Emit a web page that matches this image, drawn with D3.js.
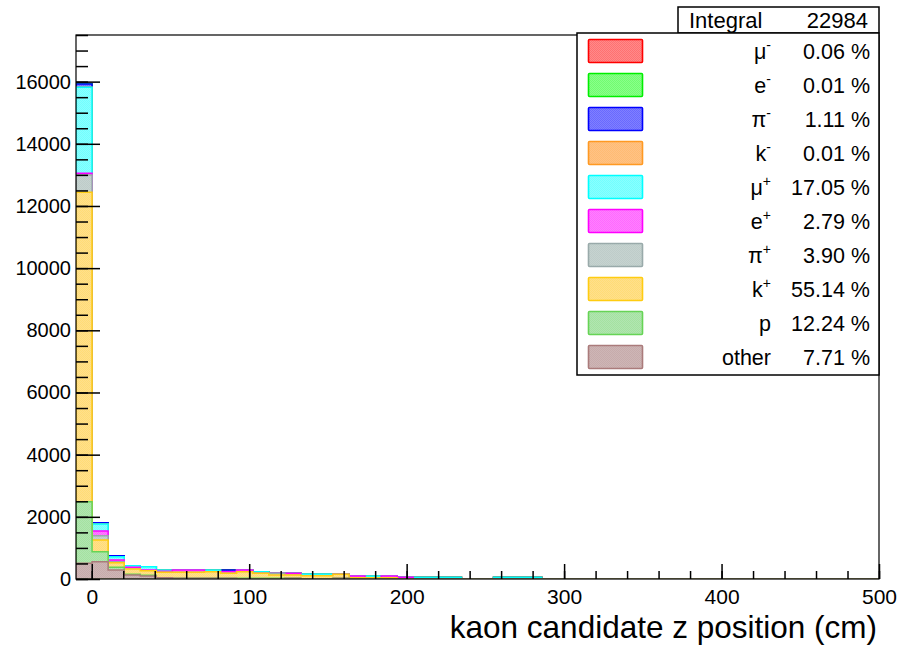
<!DOCTYPE html>
<html>
<head>
<meta charset="utf-8">
<script src="https://cdn.jsdelivr.net/npm/d3@7"></script>
<style>
  html, body { margin: 0; padding: 0; background: #fff; }
  svg { display: block; font-family: "Liberation Sans", Arial, Helvetica, sans-serif; }
</style>
</head>
<body>
<svg id="chart" width="897" height="648"></svg>
<script>
// Binning of the z-position histogram: 50 bins between -10 and 500 cm
const xMin = -10, xMax = 500, nBins = 50;
const yMax = 17500;
const integralLabel = "Integral";
const integralValue = "22984";
const xTitle = "kaon candidate z position (cm)";
const xMajorTicks = [0, 100, 200, 300, 400, 500];
const yMajorTicks = [0, 2000, 4000, 6000, 8000, 10000, 12000, 14000, 16000];

// Bin contents per particle species (bins 0..28, later bins are empty)
const other   = [504, 557, 289, 128, 96, 43, 21, 21, 21, 21, 0, 0, 0, 21, 0, 0, 21, 0, 0, 0, 0, 0, 0, 0, 0, 0, 0, 0, 0];
const proton  = [1980, 321, 86, 22, 21, 0, 0, 0, 0, 0, 21, 21, 21, 0, 0, 0, 0, 0, 0, 0, 0, 0, 0, 0, 0, 0, 0, 0, 0];
const kPlus   = [9960, 375, 149, 171, 150, 171, 193, 193, 214, 161, 214, 160, 107, 107, 107, 107, 129, 43, 43, 43, 0, 0, 0, 0, 0, 0, 0, 0, 0];
const piPlus  = [556, 138, 32, 0, 0, 0, 0, 0, 0, 0, 0, 0, 54, 0, 0, 0, 0, 0, 0, 0, 0, 0, 0, 0, 0, 0, 0, 0, 0];
const ePlus   = [54, 151, 54, 54, 21, 32, 75, 75, 0, 54, 54, 0, 0, 54, 0, 0, 0, 53, 0, 53, 53, 0, 0, 0, 0, 0, 0, 0, 0];
const muPlus  = [2764, 225, 107, 53, 108, 43, 0, 0, 54, 0, 0, 54, 0, 0, 53, 53, 0, 0, 53, 0, 0, 53, 53, 53, 0, 0, 53, 53, 53];
const kMinus  = [2];
const piMinus = [107, 42, 33, 0, 0, 0, 0, 0, 0, 53];
const eMinus  = [2];
const muMinus = [14];

// Legend labels (top to bottom) and their stated fractions
const legendNames = [["μ", "-"], ["e", "-"], ["π", "-"], ["k", "-"], ["μ", "+"], ["e", "+"], ["π", "+"], ["k", "+"], ["p", ""], ["other", ""]];
const legendPercents = ["0.06 %", "0.01 %", "1.11 %", "0.01 %", "17.05 %", "2.79 %", "3.90 %", "55.14 %", "12.24 %", "7.71 %"];
const lineColors = ["#ff0000", "#00ee00", "#0000ff", "#ff9922", "#00ffff", "#ff00ff", "#99aaaa", "#ffcc11", "#66d455", "#aa7b7b"];
const fillColors = ["#ff8a8a", "#8aff8a", "#8080ff", "#ffc285", "#8affff", "#ff80ff", "#c6d3d0", "#ffdf8c", "#b1e5b1", "#cdb6b6"];

// Same order as the legend rows; the stack is built from the bottom (other) upward
const seriesValues = [muMinus, eMinus, piMinus, kMinus, muPlus, ePlus, piPlus, kPlus, proton, other];
const species = legendNames.map((n, i) => ({
  id: i, name: n[0], sup: n[1], pct: legendPercents[i],
  line: lineColors[i], fill: fillColors[i],
  values: d3.range(nBins).map(b => seriesValues[i][b] || 0)
}));
const stackOrder = species.slice().reverse(); // bottom -> top

const binWidth = (xMax - xMin) / nBins;
const edges = d3.range(nBins + 1).map(k => xMin + k * binWidth);

// cumulative contents per stack level
let running = new Array(nBins).fill(0);
stackOrder.forEach(s => {
  running = running.map((v, b) => v + s.values[b]);
  s.cum = running.slice();
});

const frame = { left: 76, top: 35, right: 879, bottom: 579 };
const x = d3.scaleLinear().domain([xMin, xMax]).range([frame.left, frame.right]);
const y = d3.scaleLinear().domain([0, yMax]).range([frame.bottom, frame.top]);

const svg = d3.select("#chart");
const defs = svg.append("defs");

// fine checker fill like a dotted hatch style
species.forEach(s => {
  const p = defs.append("pattern")
    .attr("id", "pat" + s.id).attr("patternUnits", "userSpaceOnUse")
    .attr("width", 2).attr("height", 2);
  p.append("rect").attr("width", 2).attr("height", 2).attr("fill", s.fill);
  const dot = d3.interpolateRgb(s.fill, s.line)(0.18);
  p.append("rect").attr("x", 0).attr("y", 0).attr("width", 1).attr("height", 1).attr("fill", dot);
  p.append("rect").attr("x", 1).attr("y", 1).attr("width", 1).attr("height", 1).attr("fill", dot);
});

defs.append("clipPath").attr("id", "frameClip")
  .append("rect")
  .attr("x", frame.left).attr("y", frame.top)
  .attr("width", frame.right - frame.left).attr("height", frame.bottom - frame.top - 0.5);

// histogram outline path for one cumulative level
function stepPath(cum) {
  let d = `M${x(edges[0])},${y(0)}`;
  for (let b = 0; b < nBins; b++) {
    d += `L${x(edges[b])},${y(cum[b])}L${x(edges[b + 1])},${y(cum[b])}`;
  }
  d += `L${x(edges[nBins])},${y(0)}Z`;
  return d;
}

const hist = svg.append("g").attr("clip-path", "url(#frameClip)");
// draw highest cumulative first so lower levels cover it
stackOrder.slice().reverse().forEach(s => {
  hist.append("path")
    .attr("d", stepPath(s.cum))
    .attr("fill", `url(#pat${s.id})`)
    .attr("stroke", s.line)
    .attr("stroke-width", 1.5)
    .attr("stroke-linejoin", "miter");
});

// Axes: ticks point into the frame
const yMinor = d3.range(0, yMax + 1, 500);
const xMinor = d3.range(0, xMax + 1, 20);

const gyMinor = svg.append("g").attr("transform", `translate(${frame.left},0)`)
  .call(d3.axisLeft(y).tickValues(yMinor).tickSize(-12).tickSizeOuter(0).tickFormat(""));
const gy = svg.append("g").attr("transform", `translate(${frame.left},0)`)
  .call(d3.axisLeft(y).tickValues(yMajorTicks).tickSize(-24).tickSizeOuter(0).tickPadding(5).tickFormat(d3.format("d")));

const gxMinor = svg.append("g").attr("transform", `translate(0,${frame.bottom})`)
  .call(d3.axisBottom(x).tickValues(xMinor).tickSize(-8).tickSizeOuter(0).tickFormat(""));
const gx = svg.append("g").attr("transform", `translate(0,${frame.bottom})`)
  .call(d3.axisBottom(x).tickValues(xMajorTicks).tickSize(-15).tickSizeOuter(0).tickPadding(10).tickFormat(d3.format("d")));

[gyMinor, gy, gxMinor, gx].forEach(g => {
  g.select(".domain").remove();
  g.selectAll(".tick line").attr("stroke", "#000").attr("stroke-width", 1.5);
  g.selectAll(".tick text").attr("fill", "#000").style("font-size", "20px")
    .style("font-family", '"Liberation Sans", Arial, Helvetica, sans-serif');
});
gx.selectAll(".tick text").style("font-size", "21px");

svg.append("rect")
  .attr("x", frame.left).attr("y", frame.top)
  .attr("width", frame.right - frame.left).attr("height", frame.bottom - frame.top)
  .attr("fill", "none").attr("stroke", "#000").attr("stroke-width", 1.2);

svg.append("text")
  .attr("x", 877).attr("y", 638)
  .attr("text-anchor", "end")
  .style("font-size", "31.5px")
  .text(xTitle);

// Statistics box
svg.append("rect")
  .attr("x", 678).attr("y", 7).attr("width", 201).attr("height", 26)
  .attr("fill", "#fff").attr("stroke", "#000").attr("stroke-width", 1.5);
svg.append("text").attr("x", 689).attr("y", 28).style("font-size", "22px").text(integralLabel);
svg.append("text").attr("x", 868).attr("y", 28).attr("text-anchor", "end").style("font-size", "22px").text(integralValue);

// Legend
const lg = svg.append("g");
lg.append("rect")
  .attr("x", 577).attr("y", 33).attr("width", 302).attr("height", 342)
  .attr("fill", "#fff").attr("stroke", "#000").attr("stroke-width", 1.5);

const rowH = 34;
const rows = lg.selectAll("g.row").data(species).join("g").attr("class", "row")
  .attr("transform", (d, i) => `translate(0,${i * rowH})`);
rows.append("rect")
  .attr("x", 588.5).attr("y", 39.5).attr("width", 54).attr("height", 23).attr("rx", 1)
  .attr("fill", d => `url(#pat${d.id})`)
  .attr("stroke", d => d.line).attr("stroke-width", 1.6);
const names = rows.append("text")
  .attr("x", 771).attr("y", 59).attr("text-anchor", "end")
  .style("font-size", "21.5px");
names.append("tspan").text(d => d.name);
names.filter(d => d.sup).append("tspan")
  .attr("dy", -9).style("font-size", "14px").text(d => d.sup);
rows.append("text")
  .attr("x", 870).attr("y", 59).attr("text-anchor", "end")
  .style("font-size", "21.5px")
  .text(d => d.pct);
</script>
</body>
</html>
